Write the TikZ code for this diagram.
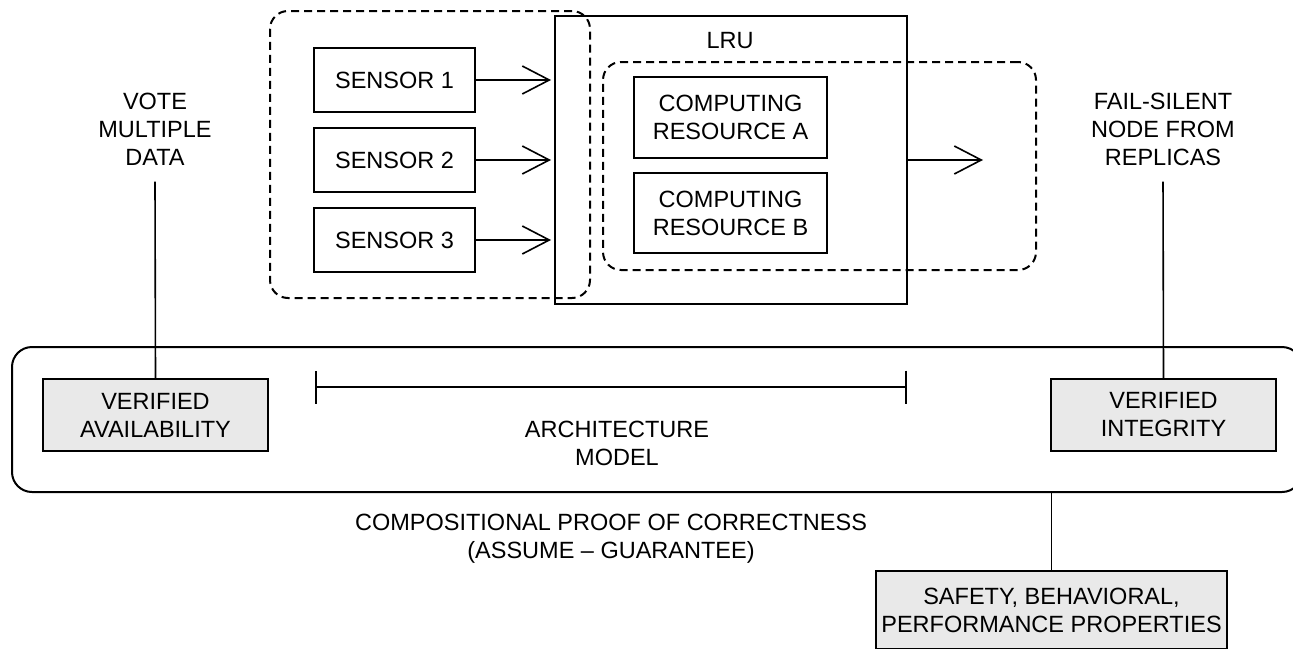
\documentclass[tikz,border=0pt]{standalone}
\usepackage{fontspec}
\setmainfont{Liberation Sans}
\usetikzlibrary{arrows.meta}
\definecolor{boxgray}{HTML}{E9E9E9}
\tikzset{
  box/.style={draw, line width=1pt, align=center, inner sep=0pt, fill=white},
  graybox/.style={box, fill=boxgray},
  group/.style={draw, line width=1pt, dash pattern=on 4pt off 2.5pt,
    rounded corners=9pt, inner sep=0pt},
  frame/.style={draw, line width=1pt, rounded corners=10pt, inner sep=0pt},
  lbl/.style={align=center, inner sep=0pt},
  arr/.style={-{Straight Barb[length=13.5pt,width=14pt]}, line width=0.8pt},
  conn/.style={line width=0.8pt},
  span/.style={{Bar[width=16.5pt]}-{Bar[width=16.5pt]}, line width=0.8pt}
}
\begin{document}
\begin{tikzpicture}[x=0.5pt, y=-0.5pt, font=\fontsize{11.75}{14}\selectfont]
\useasboundingbox (0,0) rectangle (1293,648);
\clip (0,0) rectangle (1293,648);

% line replaceable unit and its contents
\node[box, minimum width=176pt, minimum height=144pt] (lru) at (731,160) {};
\node[lbl] (lrulbl) at (730,41) {LRU};
\node[box, minimum width=96.5pt, minimum height=40.5pt] (ca) at (730.5,117.5) {COMPUTING\\RESOURCE A};
\node[box, minimum width=96.5pt, minimum height=40pt] (cb) at (730.5,213) {COMPUTING\\RESOURCE B};

% sensors
\node[box, minimum width=80.5pt, minimum height=32pt] (s1) at (394.5,80) {SENSOR 1};
\node[box, minimum width=80.5pt, minimum height=32pt] (s2) at (394.5,160) {SENSOR 2};
\node[box, minimum width=80.5pt, minimum height=32pt] (s3) at (394.5,240) {SENSOR 3};

% dashed groupings
\node[group, minimum width=160pt, minimum height=143.5pt] (sg) at (430,154.5) {};
\node[group, minimum width=216.5pt, minimum height=104pt] (cg) at (819.5,166) {};

% data flow
\foreach \s in {s1,s2,s3}
  \draw[arr, shorten >=1.5pt] (\s.east) -- (\s.east -| lru.west);
\coordinate (outtip) at (983,160);
\draw[arr] (lru.east) -- (outtip);

% compositional proof frame
\node[frame, minimum width=645pt, minimum height=72.5pt] (frame) at (657,419.5) {};
\node[graybox, minimum width=112.5pt, minimum height=36pt] (va) at (155.5,415) {VERIFIED\\AVAILABILITY};
\node[graybox, minimum width=112.5pt, minimum height=36pt] (vi) at (1163.5,415) {VERIFIED\\INTEGRITY};

\coordinate (archL) at (315,387);
\coordinate (archR) at (907,387);
\draw[span] (archL) -- (archR);
\node[lbl] (arch) at (617,443) {ARCHITECTURE\\MODEL};

\node[lbl] (comp) at (611,538.5) {COMPOSITIONAL PROOF OF CORRECTNESS\\(ASSUME -- GUARANTEE)};

% annotations
\node[lbl] (vote) at (155,129) {VOTE\\MULTIPLE\\DATA};
\node[lbl] (fsn) at (1163,129) {FAIL-SILENT\\NODE FROM\\REPLICAS};
\draw[conn] (va.north) -- ([yshift=-8pt]vote.south);
\draw[conn] (vi.north) -- ([yshift=-8pt]fsn.south);

% properties
\node[graybox, minimum width=175.5pt, minimum height=39pt] (sp) at (1051.5,610) {SAFETY, BEHAVIORAL,\\PERFORMANCE PROPERTIES};
\draw[conn] (sp.north) -- (sp.north |- frame.south);
\end{tikzpicture}
\end{document}
